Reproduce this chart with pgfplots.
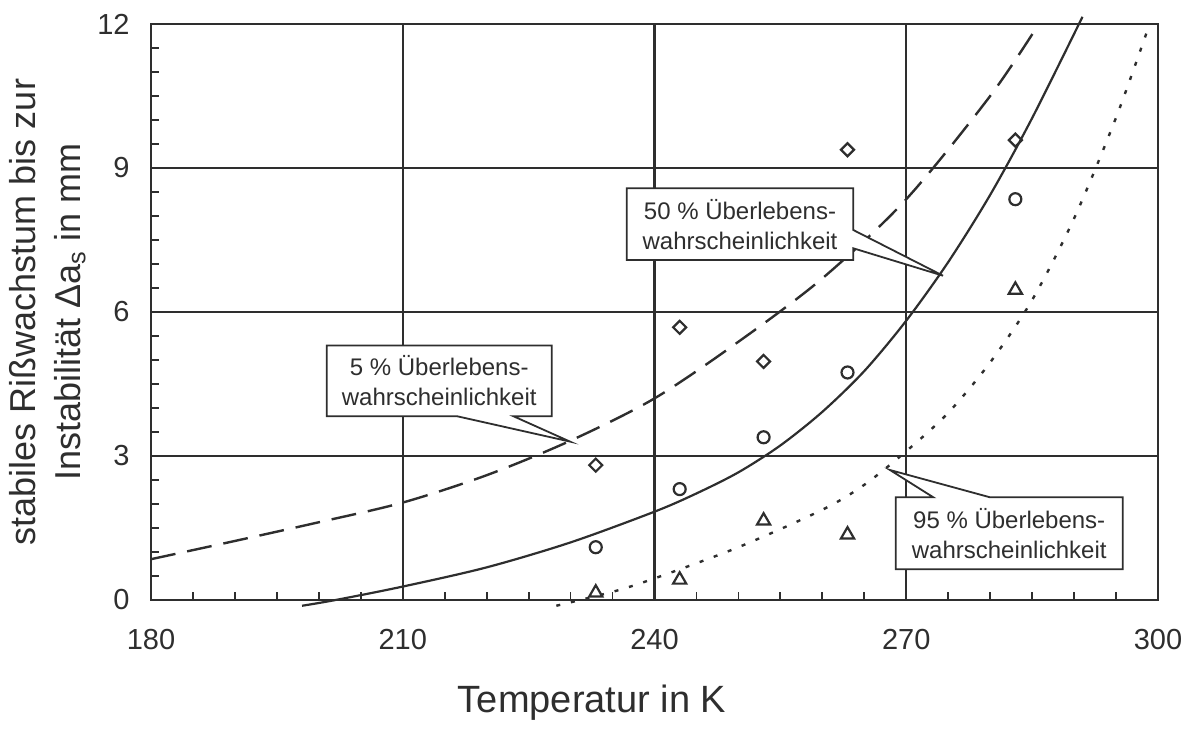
\documentclass[border=0pt]{standalone}
\usepackage{pgfplots}
\pgfplotsset{compat=1.18}
\usepackage{fontspec}
\setmainfont{Liberation Sans}

\definecolor{ink}{gray}{0.18}

\begin{document}
\begin{tikzpicture}
\begin{axis}[
    at={(0,0)}, anchor=south west,
    scale only axis, width=503.5pt, height=288pt,
    xmin=180, xmax=300, ymin=0, ymax=12,
    xtick={180,210,...,300}, ytick={0,3,...,12},
    minor x tick num=5, minor y tick num=5,
    xtick pos=bottom, ytick pos=left,
    tick align=inside,
    major tick length=0pt, minor tick length=4pt,
    grid=major,
    major grid style={line width=1.1pt, color=ink},
    axis line style={line width=1.1pt, color=ink},
    minor tick style={line width=0.9pt, color=ink},
    /pgf/number format/assume math mode=true,
    ticklabel style={font=\fontsize{14.5}{17}\selectfont, text=ink},
    xticklabel style={anchor=north, inner sep=0pt, yshift=-14.5pt},
    yticklabel style={anchor=east, inner sep=0pt, xshift=-10.5pt},
    xlabel={Temperatur in K},
    xlabel style={at={(axis description cs:0.438,0)}, anchor=base, yshift=-56pt,
        font=\fontsize{19}{23}\selectfont, text=ink},
    ylabel={stabiles Rißwachstum bis zur\\Instabilität Δa\textsubscript{s} in mm},
    ylabel style={at={(axis description cs:-0.1028,0.5)}, anchor=center, align=center,
        font=\fontsize{18}{22.5}\selectfont, text=ink},
    clip=false,
]
% 5 % Ueberlebenswahrscheinlichkeit
\addplot[ink, line width=1.2pt, dash pattern=on 12.5pt off 6pt, smooth] coordinates {
    (180,0.85) (190,1.23) (200,1.62) (210,2.03) (220,2.60) (230,3.32)
    (240,4.20) (250,5.38) (260,6.70) (270,8.35) (280,10.50) (285.8,12.0)
};
% 50 %
\addplot[ink, line width=1.1pt, smooth] coordinates {
    (198,-0.12) (202,0.0) (210,0.28) (220,0.68) (230,1.20) (240,1.84)
    (245,2.22) (250,2.66) (255,3.22) (260,3.92) (265,4.77) (270,5.82)
    (275,7.04) (280,8.44) (285,10.04) (291,12.15)
};
% 95 %
\addplot[ink, line width=1.2pt, dash pattern=on 2pt off 5.5pt, smooth] coordinates {
    (228.3,-0.12) (235,0.17) (240,0.45) (250,1.10) (260,1.88) (265,2.40)
    (270,3.10) (275,3.90) (280,4.95) (285,6.25) (290,7.95) (295,10.05) (299,12.0)
};
% Messwerte
\addplot[only marks, mark=square, mark size=2.3pt,
    mark options={rotate=45, line width=1.1pt, ink}] coordinates {
    (233,2.81) (243,5.68) (253,4.97) (263,9.38) (283,9.58)
};
\addplot[only marks, mark=o, mark size=3pt,
    mark options={line width=1.1pt, ink}] coordinates {
    (233,1.10) (243,2.31) (253,3.39) (263,4.74) (283,8.35)
};
\addplot[only marks, mark=triangle, mark size=3.8pt,
    mark options={line width=1.1pt, ink}] coordinates {
    (233,0.15) (243,0.42) (253,1.65) (263,1.36) (283,6.46)
};
% Beschriftungen
\filldraw[fill=white, draw=ink, line width=0.9pt]
    (axis cs:200.94,5.30) -- (axis cs:227.75,5.30) -- (axis cs:227.75,3.83)
    -- (axis cs:223.17,3.83) -- (axis cs:229.93,3.30) -- (axis cs:216.43,3.83)
    -- (axis cs:200.94,3.83) -- cycle;
\node[align=center, font=\fontsize{12}{15}\selectfont, text=ink]
    at (axis cs:214.35,4.565) {5 \% Überlebens-\\wahrscheinlichkeit};
\filldraw[fill=white, draw=ink, line width=0.9pt]
    (axis cs:236.69,8.577) -- (axis cs:263.69,8.577) -- (axis cs:263.69,7.708)
    -- (axis cs:274.38,6.756) -- (axis cs:263.69,7.327) -- (axis cs:263.69,7.083)
    -- (axis cs:236.69,7.083) -- cycle;
\node[align=center, font=\fontsize{12}{15}\selectfont, text=ink]
    at (axis cs:250.19,7.83) {50 \% Überlebens-\\wahrscheinlichkeit};
\filldraw[fill=white, draw=ink, line width=0.9pt]
    (axis cs:268.74,2.14) -- (axis cs:273.22,2.14) -- (axis cs:268.06,2.708)
    -- (axis cs:279.97,2.14) -- (axis cs:295.79,2.14) -- (axis cs:295.79,0.64)
    -- (axis cs:268.74,0.64) -- cycle;
\node[align=center, font=\fontsize{12}{15}\selectfont, text=ink]
    at (axis cs:282.27,1.39) {95 \% Überlebens-\\wahrscheinlichkeit};
\end{axis}
\pgfresetboundingbox
\path[use as bounding box] (-75.5pt,-68.5pt) rectangle (520.5pt,300pt);
\end{tikzpicture}
\end{document}
